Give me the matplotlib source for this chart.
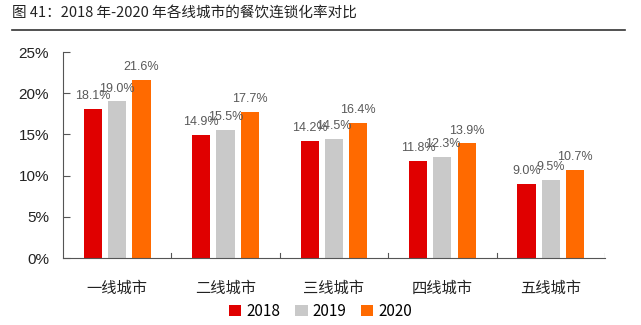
import numpy as np
import matplotlib.pyplot as plt
from matplotlib.lines import Line2D

plt.rcParams['font.family'] = ['Liberation Sans', 'Noto Sans CJK SC', 'DejaVu Sans']

cities = ['一线城市', '二线城市', '三线城市', '四线城市', '五线城市']
years = ['2018', '2019', '2020']
v2018 = [18.1, 14.9, 14.2, 11.8, 9.0]
v2019 = [19.0, 15.5, 14.5, 12.3, 9.5]
v2020 = [21.6, 17.7, 16.4, 13.9, 10.7]
colors = ['#E00000', '#C9C9C9', '#FF6A00']

fig = plt.figure(figsize=(6.41, 3.25), dpi=100)
ax = fig.add_axes([0.098, 0.206, 0.846, 0.634])

x = np.arange(len(cities))
w = 0.167
step = 0.225
for i, vals in enumerate([v2018, v2019, v2020]):
    pos = x + (i - 1) * step
    ax.bar(pos, vals, width=w, color=colors[i], label=years[i], zorder=2)
    for px, v in zip(pos, vals):
        ax.annotate(f'{v:.1f}%', (px, v), xytext=(0, 5), textcoords='offset points',
                    ha='center', va='bottom', fontsize=9, color='#595959')

ax.set_xlim(-0.5, len(cities) - 0.5)
ax.set_ylim(0, 25)
ax.set_yticks(range(0, 26, 5))
ax.set_yticklabels([f'{t}%' for t in range(0, 26, 5)], fontsize=11, color='#222222')
ax.set_xticks(x)
ax.set_xticklabels(cities, fontsize=11, color='#222222', family=['Noto Sans CJK SC'])
ax.tick_params(axis='x', length=0, pad=16)
ax.tick_params(axis='y', direction='in', length=5, color='#555555', pad=10)
for b in np.arange(-0.5, len(cities) + 0.5, 1.0)[1:]:
    ax.axvline(b, ymin=0, ymax=0.025, color='#555555', lw=0.8)
for s in ['top', 'right']:
    ax.spines[s].set_visible(False)
ax.spines['left'].set_color('#555555')
ax.spines['bottom'].set_color('#555555')

fig.text(0.019, 0.96, '图 41：2018 年-2020 年各线城市的餐饮连锁化率对比', fontsize=10.5,
         color='#222222', va='center', family=['Noto Sans CJK SC', 'DejaVu Sans'])
fig.add_artist(Line2D([0.019, 0.975], [0.908, 0.908], color='#333333', lw=1.2))

handles, labels = ax.get_legend_handles_labels()
fig.legend(handles, labels, loc='center', bbox_to_anchor=(0.5, 0.042), ncol=3, frameon=False,
           handlelength=0.8, handleheight=0.8, handletextpad=0.3, columnspacing=1.0,
           borderaxespad=0.1, prop={'family': 'Noto Sans CJK SC', 'size': 11})

fig.savefig('out.png', dpi=100)
